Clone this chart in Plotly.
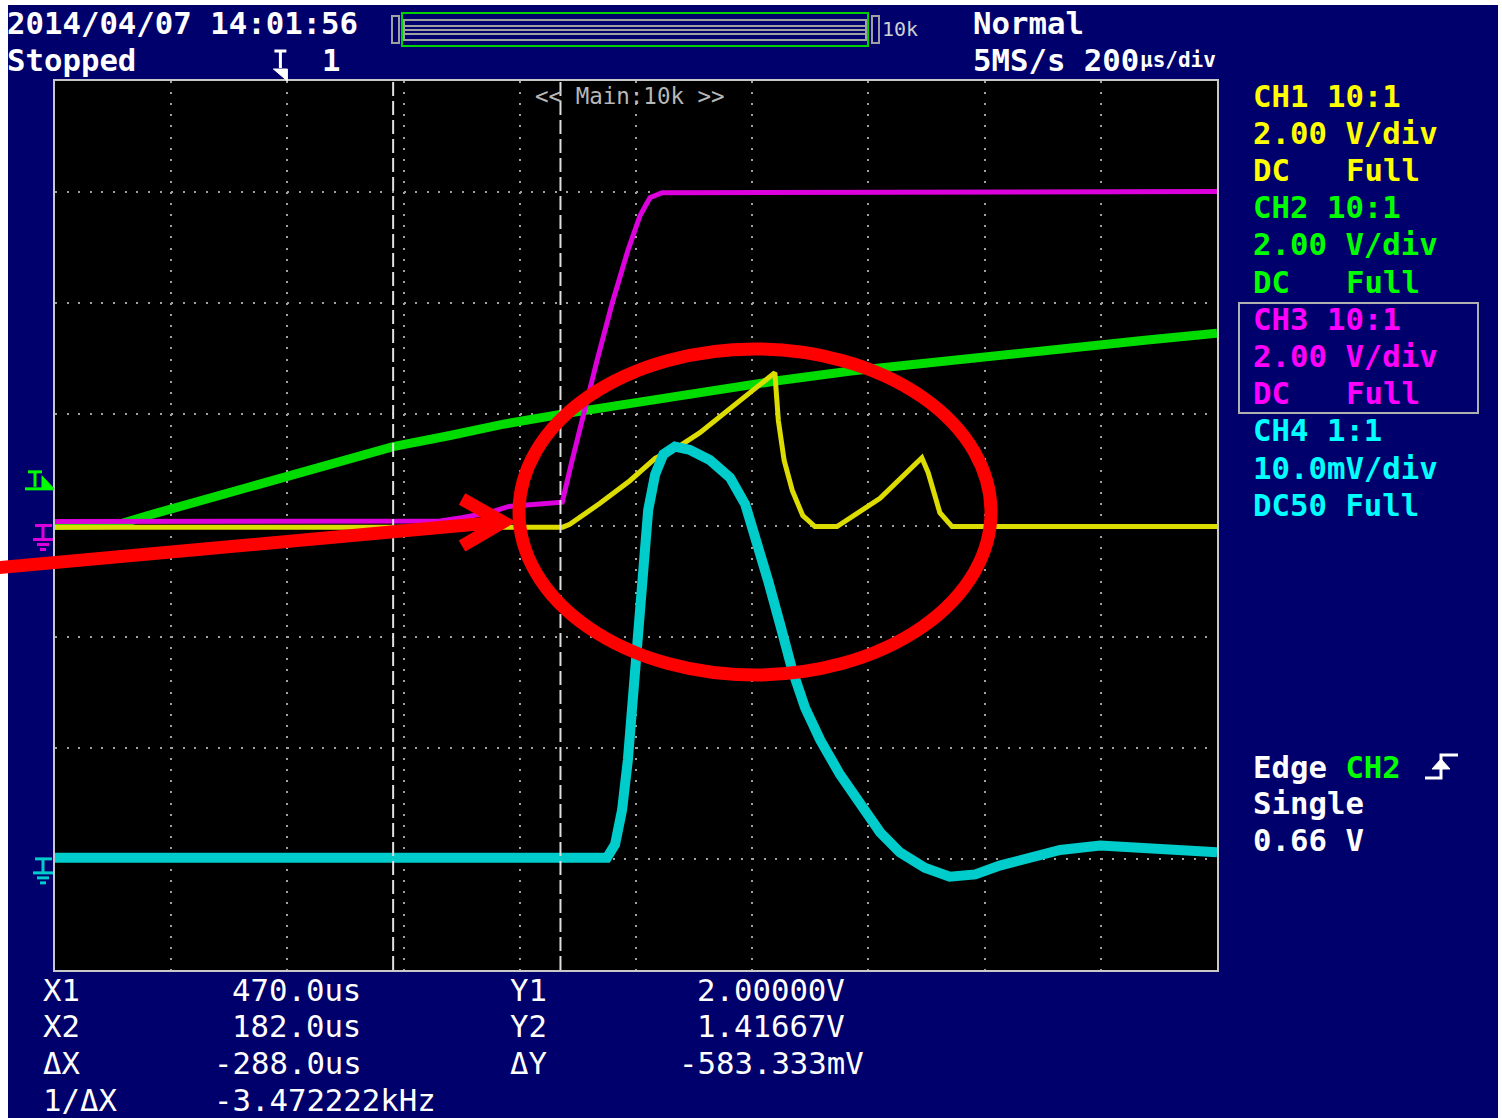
import plotly.graph_objects as go

# ---------------- data (read from the screen capture) ----------------
# time in microseconds (200 us/div, trigger at 0), CH1-CH3 in volts, CH4 in mV
ch2_t = [-400, -290, -240, -150, -60, 20, 100, 182, 280, 370, 470, 600, 710, 840, 970, 1140, 1310, 1480, 1600]
ch2_v = [0.0, 0.02, 0.18, 0.45, 0.70, 0.93, 1.17, 1.42, 1.62, 1.82, 2.00, 2.22, 2.39, 2.60, 2.78, 2.98, 3.18, 3.34, 3.46]

ch3_t = [-400, 263, 300, 350, 380, 473, 490, 509, 533, 559, 586, 607, 624, 645, 1600]
ch3_v = [0.07, 0.08, 0.14, 0.24, 0.34, 0.42, 1.17, 2.00, 2.97, 4.00, 4.95, 5.58, 5.90, 5.99, 6.01]

ch1_t = [-400, 474, 486, 538, 590, 633, 655, 676, 710, 779, 839, 845, 855, 869, 887, 908, 946, 1020, 1092, 1103, 1123, 1144, 1600]
ch1_v = [-0.03, -0.03, 0.02, 0.40, 0.81, 1.21, 1.33, 1.44, 1.67, 2.25, 2.75, 1.89, 1.17, 0.63, 0.18, -0.02, -0.02, 0.49, 1.22, 0.95, 0.23, -0.02, -0.02]

ch4_t = [-400, 550, 564, 576, 586, 595, 603, 612, 621, 633, 647, 667, 693, 727, 762, 788, 808, 827, 848, 869, 891,
         917, 951, 986, 1020, 1054, 1097, 1140, 1184, 1226, 1278, 1330, 1399, 1485, 1600]
ch4_mv = [0.1, 0.1, 1.3, 4.4, 8.9, 14.3, 21.5, 26.9, 31.4, 34.6, 36.4, 37.1, 36.8, 35.9, 34.3, 31.9, 28.7, 25.1, 21.1, 17.0, 13.6,
          10.7, 7.6, 4.9, 2.4, 0.6, -0.8, -1.6, -1.4, -0.6, 0.2, 0.8, 1.2, 1.0, 0.6]

# cursor readouts
cursor_x = [470.0, 182.0]       # X1, X2 (us)
cursor_y = [2.000000, 1.416667]  # Y1, Y2 (V)
trigger_level = 0.66            # V on CH2

# header / channel panel text
date_text = "2014/04/07 14:01:56"
state_text = "Stopped"
mode_text = "Normal"
rate_text = "5MS/s 200"
tdiv_text = "µs/div"
mem_text = "10k"
zoom_text = "<< Main:10k >>"
ch_probe = ["CH1 10:1", "CH2 10:1", "CH3 10:1", "CH4 1:1"]
ch_scale = ["2.00 V/div", "2.00 V/div", "2.00 V/div", "10.0mV/div"]
ch_coupling = ["DC", "DC", "DC", "DC50"]
ch_bw = ["Full", "Full", "Full", "Full"]
ch_text_colors = ["#ffff00", "#00ff00", "#ff00ff", "#00ffff"]

TIME_RANGE = [-400, 1600]
V_RANGE = [-8, 8]
MV_RANGE = [-10, 70]

# ---------------- layout geometry ----------------
W, H = 1502, 1118
ML, MR, MT, MB = 55, 285, 81, 148
PW, PH = W - ML - MR, H - MT - MB
NAVY = "#00006c"
MONO = "DejaVu Sans Mono"
FS = 30.7


def px(x):
    return (x - ML) / PW


def py(y):
    return (H - MB - y) / PH


def vy(v):  # CH1-3 volts -> paper
    return (v - V_RANGE[0]) / (V_RANGE[1] - V_RANGE[0])


def my(mv):  # CH4 mV -> paper
    return (mv - MV_RANGE[0]) / (MV_RANGE[1] - MV_RANGE[0])


fig = go.Figure()
fig.add_trace(go.Scatter(x=ch4_t, y=ch4_mv, yaxis="y2", mode="lines",
                         line=dict(color="#00cccc", width=10), name="CH4"))
fig.add_trace(go.Scatter(x=ch2_t, y=ch2_v, mode="lines",
                         line=dict(color="#00dc00", width=9), name="CH2"))
fig.add_trace(go.Scatter(x=ch1_t, y=ch1_v, mode="lines",
                         line=dict(color="#dcdc00", width=5), name="CH1"))
fig.add_trace(go.Scatter(x=ch3_t, y=ch3_v, mode="lines",
                         line=dict(color="#dc00dc", width=5), name="CH3"))

ann = []


def txt(s, x, y, color="#ffffff", size=FS, bold=True, family=MONO):
    ann.append(dict(text=("<b>%s</b>" % s) if bold else s, x=px(x), y=py(y),
                    xref="paper", yref="paper", xanchor="left", yanchor="middle",
                    showarrow=False, borderpad=0, borderwidth=0,
                    font=dict(family=family, size=size, color=color)))


# header
txt(date_text, 7, 24)
txt(state_text, 7, 60)
txt("1", 322, 60)
txt(mode_text, 973, 24)
txt(rate_text, 973, 60)
txt(tdiv_text, 1140, 60, size=21)
txt(mem_text, 882, 29, color="#d0d0d0", size=20, bold=False)
txt(zoom_text, 535, 96, color="#b8b8b8", size=22.5, bold=False)

# channel panel
y0 = 96
step = 37.2
for i in range(4):
    c = ch_text_colors[i]
    txt(ch_probe[i], 1253, y0 + (3 * i) * step, c)
    txt(ch_scale[i], 1253, y0 + (3 * i + 1) * step, c)
    if ch_coupling[i] == "DC":
        txt("DC", 1253, y0 + (3 * i + 2) * step, c)
        txt(ch_bw[i], 1346, y0 + (3 * i + 2) * step, c)
    else:
        txt(ch_coupling[i] + " " + ch_bw[i], 1253, y0 + (3 * i + 2) * step, c)

# trigger panel
txt("Edge <span style='color:#00ff00'>CH2</span>", 1253, 767)
txt("Single", 1253, 803)
txt("%.2f V" % trigger_level, 1253, 840)

# cursor readouts
dx = cursor_x[1] - cursor_x[0]
dy = cursor_y[1] - cursor_y[0]
rows = [("X1", "%.1fus" % cursor_x[0], "Y1", "%.5fV" % cursor_y[0]),
        ("X2", "%.1fus" % cursor_x[1], "Y2", "%.5fV" % cursor_y[1]),
        ("ΔX", "%.1fus" % dx, "ΔY", "%.3fmV" % (dy * 1000)),
        ("1/ΔX", "%.6fkHz" % (1000.0 / dx), None, None)]
CW = 18.5
for r, (a, b, c, d) in enumerate(rows):
    yy = 990 + r * 36.7
    txt(a, 43, yy, bold=False)
    txt(b, 232 - (CW if b.startswith("-") else 0), yy, bold=False)
    if c:
        txt(c, 510, yy, bold=False)
        txt(d, 697 - (CW if d.startswith("-") else 0), yy, bold=False)

shapes = []
# white border of the capture
for (x0_, y0_, x1_, y1_) in [(0, 0, 8, H), (0, 0, W, 5), (W - 4, 0, W, H)]:
    shapes.append(dict(type="rect", xref="paper", yref="paper", x0=px(x0_), x1=px(x1_),
                       y0=py(y0_), y1=py(y1_), fillcolor="#ffffff", line=dict(width=0), layer="below"))

# memory bar
shapes.append(dict(type="rect", xref="paper", yref="paper", x0=px(392), x1=px(399), y0=py(16), y1=py(43),
                   line=dict(color="#a0a0a0", width=2)))
shapes.append(dict(type="rect", xref="paper", yref="paper", x0=px(872), x1=px(879), y0=py(16), y1=py(43),
                   line=dict(color="#a0a0a0", width=2)))
shapes.append(dict(type="rect", xref="paper", yref="paper", x0=px(404), x1=px(866), y0=py(20), y1=py(40),
                   line=dict(color="#a0a0a0", width=2)))
for yl in [26, 30, 34]:
    shapes.append(dict(type="line", xref="paper", yref="paper", x0=px(404), x1=px(866), y0=py(yl), y1=py(yl),
                       line=dict(color="#a0a0a0", width=2)))
shapes.append(dict(type="rect", xref="paper", yref="paper", x0=px(402), x1=px(868), y0=py(13), y1=py(46),
                   line=dict(color="#00d000", width=2)))

# CH3 selection box
shapes.append(dict(type="rect", xref="paper", yref="paper", x0=px(1239), x1=px(1478), y0=py(303), y1=py(413),
                   line=dict(color="#b0b0b0", width=2)))

# trigger position marker (t = 0) at top
xt = (0 - TIME_RANGE[0]) / (TIME_RANGE[1] - TIME_RANGE[0])
tp = px(ML + xt * PW)
shapes.append(dict(type="path", xref="paper", yref="paper",
                   path="M %f %f L %f %f L %f %f Z" % (tp - 14 / PW, py(69), tp, py(69), tp, py(81)),
                   fillcolor="#ffffff", line=dict(color="#ffffff", width=1)))
shapes.append(dict(type="line", xref="paper", yref="paper", x0=tp - 13 / PW, x1=tp - 1 / PW, y0=py(51), y1=py(51),
                   line=dict(color="#ffffff", width=3)))
shapes.append(dict(type="line", xref="paper", yref="paper", x0=tp - 7 / PW, x1=tp - 7 / PW, y0=py(51), y1=py(68),
                   line=dict(color="#ffffff", width=3)))

# edge symbol
shapes.append(dict(type="path", xref="paper", yref="paper",
                   path="M %f %f L %f %f L %f %f L %f %f" % (px(1425), py(778), px(1441), py(778), px(1441), py(755),
                                                             px(1458), py(755)),
                   line=dict(color="#ffffff", width=3)))
shapes.append(dict(type="path", xref="paper", yref="paper",
                   path="M %f %f L %f %f L %f %f Z" % (px(1432), py(769), px(1450), py(769), px(1441), py(759)),
                   fillcolor="#ffffff", line=dict(color="#ffffff", width=1)))


# ground markers
def ground(yp, color):
    segs = [(35, 52, 0, 0), (43, 43, 0, 13), (33, 53, 14, 14), (37, 49, 19, 19), (40, 46, 24, 24)]
    for (a, b, c, d) in segs:
        shapes.append(dict(type="line", xref="paper", yref="paper", x0=px(a), x1=px(b),
                           y0=yp - c / PH, y1=yp - d / PH, line=dict(color=color, width=3)))


ground(vy(0), "#dc00dc")
ground(my(0), "#00cccc")

# trigger level marker (CH2)
tl = vy(trigger_level)
shapes.append(dict(type="line", xref="paper", yref="paper", x0=px(25), x1=px(54), y0=tl, y1=tl,
                   line=dict(color="#00ff00", width=3)))
shapes.append(dict(type="line", xref="paper", yref="paper", x0=px(28), x1=px(42), y0=tl + 17 / PH, y1=tl + 17 / PH,
                   line=dict(color="#00ff00", width=3)))
shapes.append(dict(type="line", xref="paper", yref="paper", x0=px(35), x1=px(35), y0=tl + 17 / PH, y1=tl + 2 / PH,
                   line=dict(color="#00ff00", width=3)))
shapes.append(dict(type="path", xref="paper", yref="paper",
                   path="M %f %f L %f %f L %f %f Z" % (px(42), tl + 13 / PH, px(54), tl, px(42), tl),
                   fillcolor="#00ff00", line=dict(color="#00ff00", width=1)))

# cursors
for cx in cursor_x:
    shapes.append(dict(type="line", xref="x", yref="paper", x0=cx, x1=cx, y0=0, y1=1,
                       line=dict(color="#e0e0e0", width=2, dash="14px,5px")))

# red annotation: ellipse and arrow
shapes.append(dict(type="circle", xref="paper", yref="paper", x0=px(519), x1=px(991), y0=py(675), y1=py(349),
                   line=dict(color="#ff0000", width=13)))
shapes.append(dict(type="path", xref="paper", yref="paper",
                   path="M %f %f L %f %f M %f %f L %f %f L %f %f" % (px(-5), py(568), px(500), py(522),
                                                                     px(462), py(499), px(503), py(522),
                                                                     px(462), py(546)),
                   line=dict(color="#ff0000", width=13)))

fig.update_layout(
    width=W, height=H,
    margin=dict(l=ML, r=MR, t=MT, b=MB, pad=0),
    paper_bgcolor=NAVY, plot_bgcolor="#000000",
    showlegend=False,
    xaxis=dict(range=TIME_RANGE, tick0=-400, dtick=200, showticklabels=False, ticks="",
               showgrid=True, gridcolor="#a0a0a0", gridwidth=2, griddash="2px,9.1px",
               zeroline=False, showline=True, mirror=True, linecolor="#c8c8c8", linewidth=2),
    yaxis=dict(range=V_RANGE, tick0=-8, dtick=2, showticklabels=False, ticks="",
               showgrid=True, gridcolor="#a0a0a0", gridwidth=2, griddash="2px,9.62px",
               zeroline=False, showline=True, mirror=True, linecolor="#c8c8c8", linewidth=2),
    yaxis2=dict(range=MV_RANGE, overlaying="y", visible=False, showgrid=False, zeroline=False),
    annotations=ann,
    shapes=shapes,
)

fig.write_html("out.html", config={"displayModeBar": False},
               post_script="document.body.style.margin='0';document.body.style.overflow='hidden';")
